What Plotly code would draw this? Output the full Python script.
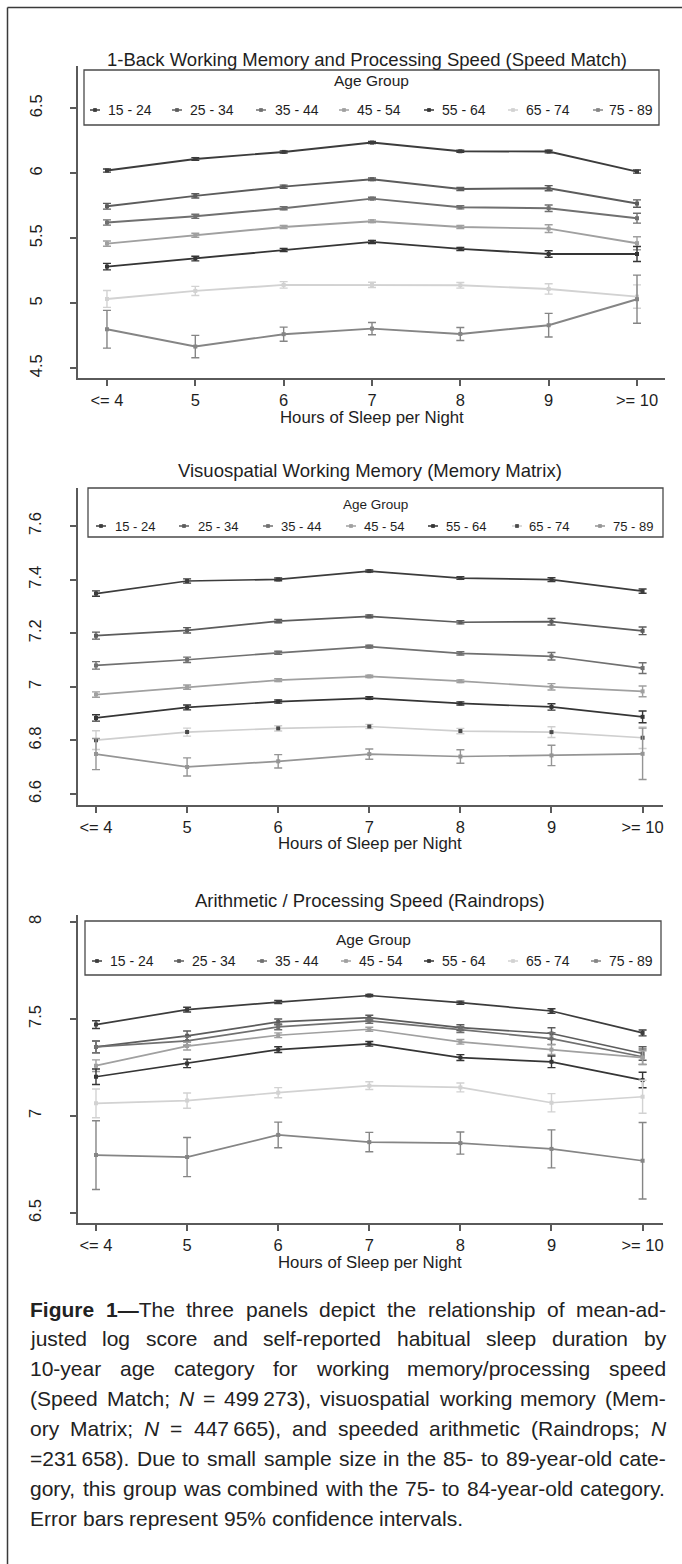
import plotly.graph_objects as go

W, H = 682, 1564

# ---------------------------------------------------------------- data
hours = ["<= 4", "5", "6", "7", "8", "9", ">= 10"]
age_groups = ["15 - 24", "25 - 34", "35 - 44", "45 - 54", "55 - 64", "65 - 74", "75 - 89"]

# Speed Match: mean-adjusted log score
sm_15_24 = [6.021, 6.110, 6.164, 6.236, 6.169, 6.167, 6.013]
sm_25_34 = [5.746, 5.826, 5.897, 5.954, 5.879, 5.885, 5.767]
sm_35_44 = [5.621, 5.669, 5.731, 5.805, 5.738, 5.731, 5.654]
sm_45_54 = [5.459, 5.523, 5.587, 5.631, 5.587, 5.574, 5.462]
sm_55_64 = [5.282, 5.344, 5.410, 5.472, 5.418, 5.379, 5.379]
sm_65_74 = [5.033, 5.095, 5.141, 5.141, 5.138, 5.110, 5.051]
sm_75_89 = [4.800, 4.667, 4.762, 4.805, 4.764, 4.831, 5.031]
# Speed Match: 95% CI half-widths
sm_ci_15_24 = [0.012, 0.010, 0.008, 0.008, 0.008, 0.010, 0.012]
sm_ci_25_34 = [0.022, 0.016, 0.012, 0.010, 0.012, 0.020, 0.028]
sm_ci_35_44 = [0.020, 0.016, 0.012, 0.010, 0.012, 0.025, 0.038]
sm_ci_45_54 = [0.020, 0.015, 0.012, 0.010, 0.012, 0.030, 0.050]
sm_ci_55_64 = [0.025, 0.018, 0.012, 0.012, 0.012, 0.025, 0.058]
sm_ci_65_74 = [0.065, 0.035, 0.025, 0.020, 0.022, 0.040, 0.090]
sm_ci_75_89 = [0.145, 0.086, 0.054, 0.047, 0.050, 0.091, 0.185]

# Memory Matrix
mm_15_24 = [7.348, 7.395, 7.401, 7.432, 7.406, 7.400, 7.357]
mm_25_34 = [7.191, 7.211, 7.245, 7.263, 7.241, 7.243, 7.209]
mm_35_44 = [7.080, 7.101, 7.127, 7.150, 7.125, 7.114, 7.070]
mm_45_54 = [6.971, 6.999, 7.025, 7.039, 7.021, 7.000, 6.983]
mm_55_64 = [6.884, 6.923, 6.945, 6.958, 6.938, 6.925, 6.888]
mm_65_74 = [6.801, 6.831, 6.845, 6.852, 6.835, 6.831, 6.810]
mm_75_89 = [6.749, 6.701, 6.722, 6.749, 6.740, 6.744, 6.750]
mm_ci_15_24 = [0.010, 0.008, 0.005, 0.004, 0.005, 0.007, 0.008]
mm_ci_25_34 = [0.013, 0.010, 0.006, 0.005, 0.006, 0.012, 0.014]
mm_ci_35_44 = [0.014, 0.010, 0.006, 0.005, 0.006, 0.014, 0.020]
mm_ci_45_54 = [0.010, 0.008, 0.005, 0.004, 0.005, 0.012, 0.020]
mm_ci_55_64 = [0.012, 0.009, 0.006, 0.005, 0.006, 0.012, 0.022]
mm_ci_65_74 = [0.035, 0.015, 0.010, 0.008, 0.010, 0.020, 0.040]
mm_ci_75_89 = [0.058, 0.034, 0.025, 0.019, 0.025, 0.038, 0.096]

# Raindrops
rd_15_24 = [7.471, 7.548, 7.587, 7.621, 7.584, 7.541, 7.428]
rd_25_34 = [7.356, 7.413, 7.485, 7.507, 7.455, 7.425, 7.322]
rd_35_44 = [7.356, 7.387, 7.459, 7.490, 7.445, 7.399, 7.305]
rd_45_54 = [7.259, 7.360, 7.416, 7.447, 7.382, 7.342, 7.301]
rd_55_64 = [7.202, 7.271, 7.342, 7.372, 7.301, 7.279, 7.185]
rd_65_74 = [7.065, 7.079, 7.120, 7.156, 7.147, 7.068, 7.099]
rd_75_89 = [6.798, 6.788, 6.902, 6.865, 6.860, 6.830, 6.769]
rd_ci_15_24 = [0.020, 0.012, 0.008, 0.006, 0.008, 0.012, 0.015]
rd_ci_25_34 = [0.030, 0.025, 0.015, 0.012, 0.015, 0.030, 0.035]
rd_ci_35_44 = [0.030, 0.022, 0.015, 0.012, 0.015, 0.030, 0.040]
rd_ci_45_54 = [0.030, 0.020, 0.012, 0.010, 0.012, 0.025, 0.035]
rd_ci_55_64 = [0.040, 0.022, 0.015, 0.012, 0.015, 0.030, 0.040]
rd_ci_65_74 = [0.074, 0.039, 0.026, 0.020, 0.023, 0.047, 0.085]
rd_ci_75_89 = [0.177, 0.101, 0.066, 0.050, 0.057, 0.098, 0.197]

panel_titles = [
    "1-Back Working Memory and Processing Speed (Speed Match)",
    "Visuospatial Working Memory (Memory Matrix)",
    "Arithmetic / Processing Speed (Raindrops)",
]
x_title = "Hours of Sleep per Night"
legend_title = "Age Group"

sm_ticks = [4.5, 5, 5.5, 6, 6.5]
sm_ticktext = ["4.5", "5", "5.5", "6", "6.5"]
mm_ticks = [6.6, 6.8, 7, 7.2, 7.4, 7.6]
mm_ticktext = ["6.6", "6.8", "7", "7.2", "7.4", "7.6"]
rd_ticks = [6.5, 7, 7.5, 8]
rd_ticktext = ["6.5", "7", "7.5", "8"]

caption_lines = [
    "<b>Figure</b> <b>1—</b>The three panels depict the relationship of mean-ad-",
    "justed log score and self-reported habitual sleep duration by",
    "10-year age category for working memory/processing speed",
    "(Speed Match; <i>N</i> = 499\u2009273), visuospatial working memory (Mem-",
    "ory Matrix; <i>N</i> = 447\u2009665), and speeded arithmetic (Raindrops; <i>N</i>",
    "=231\u2009658). Due to small sample size in the 85- to 89-year-old cate-",
    "gory, this group was combined with the 75- to 84-year-old category.",
    "Error bars represent 95% confidence intervals.",
]

# ---------------------------------------------------------------- styling
FONT = "Liberation Sans, Arial, sans-serif"
TEXT = "#1e1e1e"
AXIS = "#5a5a5a"

series_colors = ["#3c3c3c", "#5c5c5c", "#707070", "#a0a0a0", "#353535", "#d2d2d2", "#858585"]
panel2_colors = ["#3c3c3c", "#5c5c5c", "#707070", "#a0a0a0", "#353535", "#cfcfcf", "#959595"]
panel2_markers = ["#3c3c3c", "#5c5c5c", "#707070", "#a0a0a0", "#353535", "#4a4a4a", "#959595"]


def px(x):
    return x / W


def py(y):
    return 1 - y / H


panels = [
    dict(
        means=[sm_15_24, sm_25_34, sm_35_44, sm_45_54, sm_55_64, sm_65_74, sm_75_89],
        cis=[sm_ci_15_24, sm_ci_25_34, sm_ci_35_44, sm_ci_45_54, sm_ci_55_64, sm_ci_65_74, sm_ci_75_89],
        ticks=sm_ticks, ticktext=sm_ticktext,
        box=(78, 665, 66, 378), xr=[-0.328, 6.317], yr=[4.425, 6.825],
        colors=series_colors, mcolors=series_colors, lw=1.9,
        title_y=60, title_x=367,
        leg=dict(box=(84, 659, 70, 125), ty=81, tsize=15.5, iy=110, isize=14,
                 mx=[95, 177, 261, 344, 429, 513, 598], tx=[106, 188, 273, 355, 440, 524, 607]),
    ),
    dict(
        means=[mm_15_24, mm_25_34, mm_35_44, mm_45_54, mm_55_64, mm_65_74, mm_75_89],
        cis=[mm_ci_15_24, mm_ci_25_34, mm_ci_35_44, mm_ci_45_54, mm_ci_55_64, mm_ci_65_74, mm_ci_75_89],
        ticks=mm_ticks, ticktext=mm_ticktext,
        box=(77.5, 663, 488, 805), xr=[-0.203, 6.224], yr=[6.559, 7.742],
        colors=panel2_colors, mcolors=panel2_markers, lw=1.7,
        title_y=470, title_x=370,
        leg=dict(box=(88, 663, 488, 537), ty=504, tsize=13.5, iy=526, isize=13,
                 mx=[101, 184, 268, 351, 433, 517, 600], tx=[113, 196, 279, 362, 444, 527, 611]),
    ),
    dict(
        means=[rd_15_24, rd_25_34, rd_35_44, rd_45_54, rd_55_64, rd_65_74, rd_75_89],
        cis=[rd_ci_15_24, rd_ci_25_34, rd_ci_35_44, rd_ci_45_54, rd_ci_55_64, rd_ci_65_74, rd_ci_75_89],
        ticks=rd_ticks, ticktext=rd_ticktext,
        box=(77.5, 663, 915, 1223), xr=[-0.203, 6.224], yr=[6.448, 8.036],
        colors=series_colors, mcolors=series_colors, lw=1.7,
        title_y=900, title_x=370,
        leg=dict(box=(85, 661, 921, 975), ty=939, tsize=15.5, iy=961, isize=14,
                 mx=[97, 179, 262, 346, 429, 513, 596], tx=[108, 190, 273, 357, 440, 524, 607]),
    ),
]

fig = go.Figure()
shapes = []
annotations = []
layout_axes = {}

for k, p in enumerate(panels, start=1):
    xa = "x" if k == 1 else f"x{k}"
    ya = "y" if k == 1 else f"y{k}"
    x0, x1, y0, y1 = p["box"]

    for i, grp in enumerate(age_groups):
        fig.add_trace(go.Scatter(
            x=hours, y=p["means"][i], name=grp, mode="lines+markers",
            line=dict(color=p["colors"][i], width=p["lw"]),
            marker=dict(symbol="square", size=4, color=p["mcolors"][i]),
            error_y=dict(type="data", array=p["cis"][i], visible=True,
                         color=p["colors"][i], thickness=1.4, width=4),
            xaxis=xa, yaxis=ya, showlegend=False,
        ))

    layout_axes["xaxis" if k == 1 else f"xaxis{k}"] = dict(
        domain=[px(x0), px(x1)], anchor=ya, type="category",
        categoryorder="array", categoryarray=hours, range=p["xr"],
        showline=True, linecolor=AXIS, linewidth=1.5,
        ticks="outside", ticklen=6, tickwidth=1.5, tickcolor=AXIS,
        showgrid=False, zeroline=False, ticklabelstandoff=0,
        tickfont=dict(family=FONT, size=16.5, color=TEXT),
    )
    layout_axes["yaxis" if k == 1 else f"yaxis{k}"] = dict(
        domain=[py(y1), py(y0)], anchor=xa, range=p["yr"],
        tickmode="array", tickvals=p["ticks"], ticktext=p["ticktext"], tickangle=-90,
        showline=True, linecolor=AXIS, linewidth=1.5,
        ticks="outside", ticklen=6, tickwidth=1.5, tickcolor=AXIS,
        showgrid=False, zeroline=False, ticklabelstandoff=22,
        tickfont=dict(family=FONT, size=16.5, color=TEXT),
    )

    cx = (x0 + x1) / 2
    annotations.append(dict(
        text=panel_titles[k - 1], x=px(p["title_x"]), y=py(p["title_y"]), xref="paper", yref="paper",
        xanchor="center", yanchor="middle", showarrow=False,
        font=dict(family=FONT, size=18.5, color=TEXT),
    ))
    annotations.append(dict(
        text=x_title, x=px(cx), y=py(y1 + 39), xref="paper", yref="paper",
        xanchor="center", yanchor="middle", showarrow=False,
        font=dict(family=FONT, size=16.8, color=TEXT),
    ))

    # legend box
    lg = p["leg"]
    bx0, bx1, by0, by1 = lg["box"]
    shapes.append(dict(type="rect", xref="paper", yref="paper",
                       x0=px(bx0), x1=px(bx1), y0=py(by1), y1=py(by0),
                       line=dict(color="#4a4a4a", width=1.3), fillcolor="white", layer="above"))
    annotations.append(dict(
        text=legend_title, x=px((bx0 + bx1) / 2), y=py(lg["ty"]), xref="paper", yref="paper",
        xanchor="center", yanchor="middle", showarrow=False,
        font=dict(family=FONT, size=lg["tsize"], color=TEXT),
    ))
    for i, grp in enumerate(age_groups):
        mx = lg["mx"][i]
        iy = lg["iy"]
        shapes.append(dict(type="line", xref="paper", yref="paper",
                           x0=px(mx - 5), x1=px(mx + 5), y0=py(iy), y1=py(iy),
                           line=dict(color=p["colors"][i], width=1.5), layer="above"))
        shapes.append(dict(type="rect", xref="paper", yref="paper",
                           x0=px(mx - 1.5), x1=px(mx + 1.5), y0=py(iy + 1.5), y1=py(iy - 1.5),
                           line=dict(color=p["mcolors"][i], width=0.8),
                           fillcolor=p["mcolors"][i], layer="above"))
        annotations.append(dict(
            text=grp, x=px(lg["tx"][i]), y=py(iy), xref="paper", yref="paper",
            xanchor="left", yanchor="middle", showarrow=False,
            font=dict(family=FONT, size=lg["isize"], color=TEXT),
        ))

# outer frame of the figure
shapes.append(dict(type="line", xref="paper", yref="paper", x0=px(7.5), x1=px(7.5),
                   y0=0, y1=py(7.5), line=dict(color="#3a3a3a", width=1.5)))
shapes.append(dict(type="line", xref="paper", yref="paper", x0=px(7.5), x1=1,
                   y0=py(7.5), y1=py(7.5), line=dict(color="#3a3a3a", width=1.5)))

# ---------------------------------------------------------------- caption (justified)
REG = {" ": 278, "(": 333, ")": 333, ",": 278, "-": 333, ".": 278, "/": 278, "%": 889,
       ";": 278, ":": 278, "=": 584, "—": 1000, "\u2009": 200,
       "0": 556, "1": 556, "2": 556, "3": 556, "4": 556, "5": 556, "6": 556, "7": 556, "8": 556, "9": 556,
       "A": 667, "B": 667, "C": 722, "D": 722, "E": 667, "F": 611, "G": 778, "H": 722, "I": 278,
       "J": 500, "K": 667, "L": 556, "M": 833, "N": 722, "O": 778, "P": 667, "Q": 778, "R": 722,
       "S": 667, "T": 611, "U": 722, "V": 667, "W": 944, "X": 667, "Y": 667, "Z": 611,
       "a": 556, "b": 556, "c": 500, "d": 556, "e": 556, "f": 278, "g": 556, "h": 556, "i": 222,
       "j": 222, "k": 500, "l": 222, "m": 833, "n": 556, "o": 556, "p": 556, "q": 556, "r": 333,
       "s": 500, "t": 278, "u": 556, "v": 500, "w": 722, "x": 500, "y": 500, "z": 500}
BOLD = {"F": 611, "i": 278, "g": 611, "u": 611, "r": 389, "e": 556, "1": 556, "—": 1000}


def em_width(word):
    bold, total, i = False, 0, 0
    while i < len(word):
        for tag, b in (("<b>", True), ("</b>", False), ("<i>", None), ("</i>", None)):
            if word.startswith(tag, i):
                if b is not None:
                    bold = b
                i += len(tag)
                break
        else:
            ch = word[i]
            total += (BOLD if bold else REG).get(ch, REG.get(ch, 556))
            i += 1
    return total / 1000


CAP_SIZE = 21
CAP_L, CAP_R = 29, 665
cap_y = [1309, 1338, 1368, 1398, 1428, 1458, 1488, 1518]
for li, line in enumerate(caption_lines):
    words = line.split(" ")
    widths = [em_width(w) * CAP_SIZE for w in words]
    if li < len(caption_lines) - 1 and len(words) > 1:
        gap = (CAP_R - CAP_L - sum(widths)) / (len(words) - 1)
        gap = max(gap, 0.15 * CAP_SIZE)
    else:
        gap = 0.278 * CAP_SIZE
    x = CAP_L
    for w, wd in zip(words, widths):
        annotations.append(dict(
            text=w, x=px(x), y=py(cap_y[li]), xref="paper", yref="paper",
            xanchor="left", yanchor="middle", showarrow=False, borderpad=0,
            font=dict(family=FONT, size=CAP_SIZE, color="#222222"),
        ))
        x += wd + gap

fig.update_layout(
    width=W, height=H, margin=dict(l=0, r=0, t=0, b=0),
    paper_bgcolor="white", plot_bgcolor="white",
    shapes=shapes, annotations=annotations, showlegend=False,
    font=dict(family=FONT, color=TEXT),
    **layout_axes,
)

fig.write_html("out.html")
